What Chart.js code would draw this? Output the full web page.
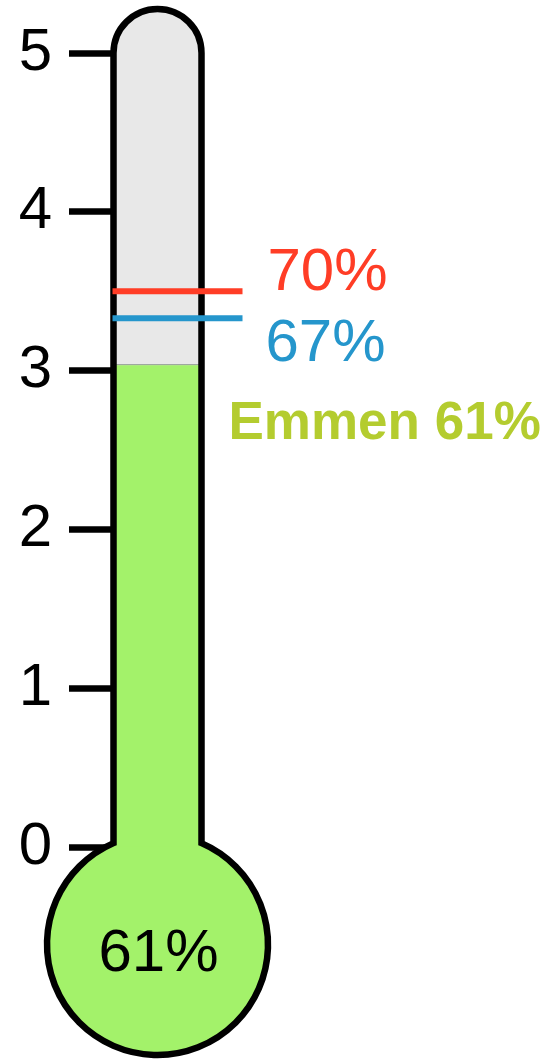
<!DOCTYPE html>
<html>
<head>
<meta charset="utf-8">
<script src="https://cdn.jsdelivr.net/npm/chart.js@4"></script>
<style>
  html, body { margin: 0; padding: 0; background: #fff; }
  #wrap { width: 545px; height: 1059px; position: relative; }
</style>
</head>
<body>
<div id="wrap"><canvas id="thermo"></canvas></div>
<script>
// data (axis runs 0..5, 5 = 100%)
const categories = ["Emmen"];
const axisTicks = [0, 1, 2, 3, 4, 5];
const cityPct = [60.8];
const refPct = [70.0, 66.6];
const refColors = ["#ff3d26", "#2596cc"];

const toAxis = pct => pct / 20;
const pctLabel = pct => Math.round(pct) + "%";

const FONT = "'Liberation Sans', Arial, sans-serif";
const GREEN = "#a3f26a";
const GRAY = "#e8e8e8";
const OLIVE = "#b4cc2f";

// tube outline, bulb, reference lines and labels
const thermoPlugin = {
  id: "thermo",
  beforeDatasetsDraw(chart) {
    const ctx = chart.ctx;
    const g = geometry(chart);

    ctx.save();
    outlinePath(ctx, g);
    ctx.fillStyle = GRAY;
    ctx.fill();

    ctx.fillStyle = GREEN;
    ctx.beginPath();
    ctx.arc(g.cx, g.bulbY, g.bulbR, 0, Math.PI * 2);
    ctx.fill();
    ctx.fillRect(g.left, g.zeroY - 1, g.right - g.left, g.bulbY - g.zeroY);
    ctx.restore();
  },
  afterDatasetsDraw(chart) {
    const ctx = chart.ctx;
    const g = geometry(chart);
    const y = chart.scales.y;

    ctx.save();
    ctx.lineWidth = 6.5;
    ctx.strokeStyle = "#000";
    outlinePath(ctx, g);
    ctx.stroke();

    // reference lines
    ctx.lineWidth = 6;
    refPct.forEach((p, i) => {
      const py = y.getPixelForValue(toAxis(p));
      ctx.strokeStyle = refColors[i];
      ctx.beginPath();
      ctx.moveTo(g.left - 1, py);
      ctx.lineTo(g.right + 41, py);
      ctx.stroke();
    });

    ctx.textBaseline = "middle";
    ctx.textAlign = "left";
    ctx.font = "60px " + FONT;
    ctx.fillStyle = refColors[0];
    ctx.fillText(pctLabel(refPct[0]), g.right + 66, y.getPixelForValue(toAxis(refPct[0])) - 18);
    ctx.fillStyle = refColors[1];
    ctx.fillText(pctLabel(refPct[1]), g.right + 64, y.getPixelForValue(toAxis(refPct[1])) + 26);

    ctx.font = "bold 53px " + FONT;
    ctx.fillStyle = OLIVE;
    ctx.fillText(categories[0] + " " + pctLabel(cityPct[0]), g.right + 27,
      y.getPixelForValue(toAxis(refPct[1])) + 106);

    ctx.textAlign = "center";
    ctx.font = "60px " + FONT;
    ctx.fillStyle = "#000";
    ctx.fillText(pctLabel(cityPct[0]), g.cx + 1, g.bulbY + 10);
    ctx.restore();
  }
};

function geometry(chart) {
  const a = chart.chartArea;
  const y = chart.scales.y;
  const left = a.left + 2.5;
  const right = a.right - 2.5;
  const cx = (left + right) / 2;
  const r = (right - left) / 2;
  const zeroY = y.getPixelForValue(0);
  return {
    left, right, cx, r,
    topY: y.getPixelForValue(5),
    zeroY,
    bulbY: zeroY + 97.5,
    bulbR: 110.5
  };
}

function outlinePath(ctx, g) {
  const dy = Math.sqrt(g.bulbR * g.bulbR - g.r * g.r);
  const angR = Math.atan2(-dy, g.r);
  const angL = Math.atan2(-dy, -g.r);
  ctx.beginPath();
  ctx.moveTo(g.left, g.bulbY - dy);
  ctx.lineTo(g.left, g.topY);
  ctx.arc(g.cx, g.topY, g.r, Math.PI, Math.PI * 2, false);
  ctx.lineTo(g.right, g.bulbY - dy);
  ctx.arc(g.cx, g.bulbY, g.bulbR, angR, angL + Math.PI * 2, false);
  ctx.closePath();
}

new Chart(document.getElementById("thermo"), {
  type: "bar",
  data: {
    labels: categories,
    datasets: [{
      data: cityPct.map(toAxis),
      backgroundColor: GREEN,
      borderColor: "#667766",
      borderWidth: { top: 1, left: 0, right: 0, bottom: 0 },
      borderSkipped: "start",
      barPercentage: 1,
      categoryPercentage: 0.9
    }]
  },
  options: {
    responsive: true,
    maintainAspectRatio: false,
    animation: false,
    layout: { padding: { left: 0, right: 341, top: 53, bottom: 212 } },
    plugins: { legend: { display: false }, tooltip: { enabled: false } },
    scales: {
      x: { display: false, offset: true },
      y: {
        min: axisTicks[0],
        max: axisTicks[axisTicks.length - 1],
        afterFit: s => { s.width = 111; },
        afterBuildTicks: s => { s.ticks = axisTicks.map(v => ({ value: v })); },
        border: { display: false },
        grid: {
          drawOnChartArea: false,
          drawTicks: true,
          tickLength: 42,
          tickWidth: 6.5,
          tickColor: "#000"
        },
        ticks: {
          color: "#000",
          padding: 17,
          font: { family: FONT, size: 60 }
        }
      }
    }
  },
  plugins: [thermoPlugin]
});
</script>
</body>
</html>
